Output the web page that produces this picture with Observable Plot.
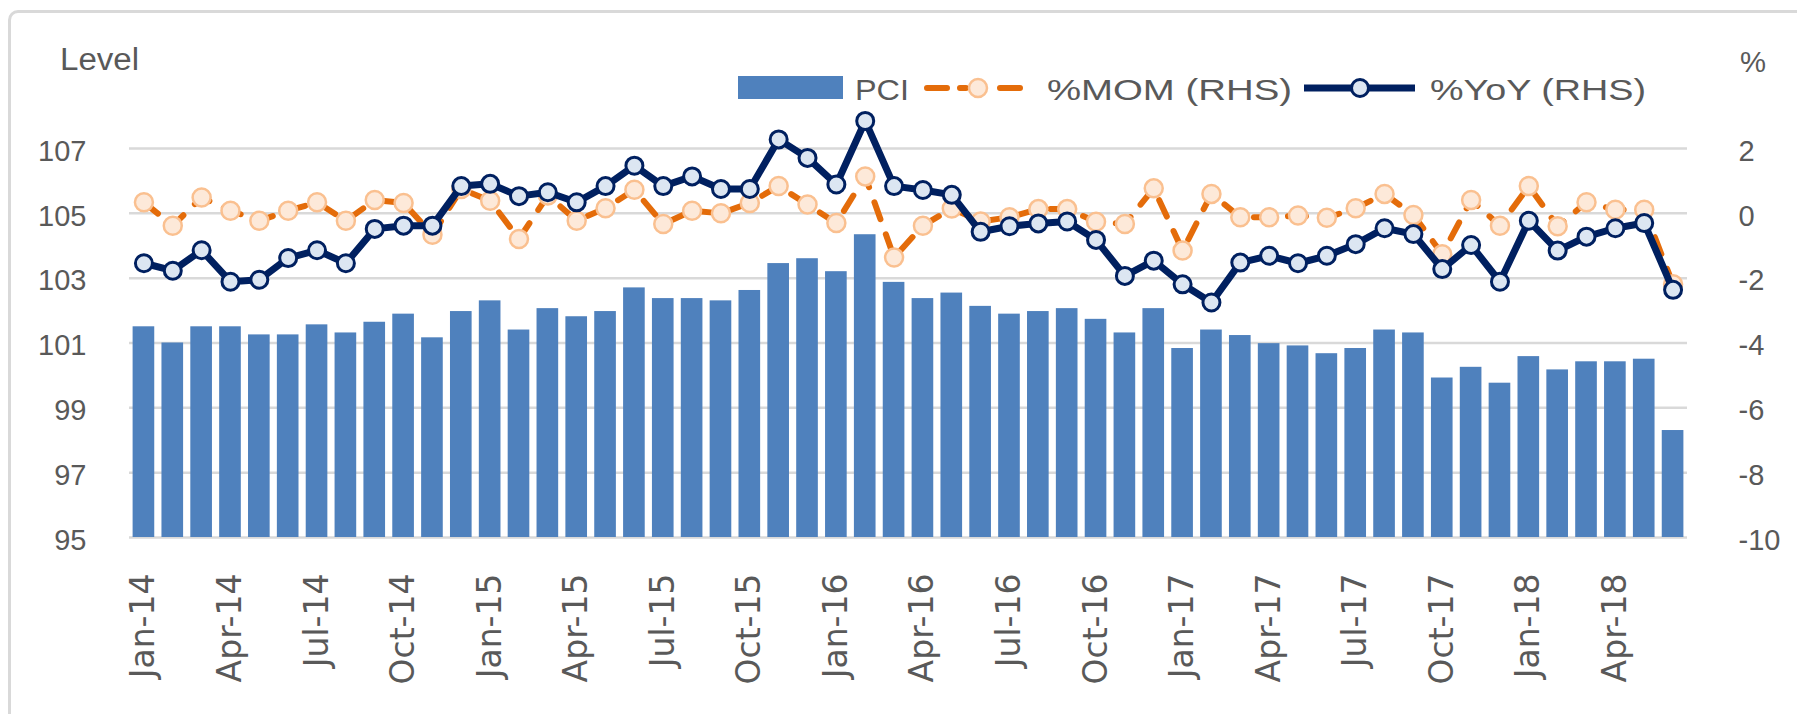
<!DOCTYPE html>
<html>
<head>
<meta charset="utf-8">
<script src="https://cdn.jsdelivr.net/npm/d3@7"></script>
<script src="https://cdn.jsdelivr.net/npm/@observablehq/plot@0.6"></script>
<style>
  html, body { margin: 0; padding: 0; background: #fff; overflow: hidden; }
  #wrap { position: relative; width: 1797px; height: 714px; overflow: hidden; background: #fff; }
  #frame { position: absolute; left: 8px; top: 10px; width: 1900px; height: 900px; border: 3px solid #d9d9d9; border-radius: 10px; box-sizing: border-box; }
  #chart { position: absolute; left: 0; top: 0; }
  #overlay { position: absolute; left: 0; top: 0; pointer-events: none; }
</style>
</head>
<body>
<div id="wrap">
  <div id="frame"></div>
  <div id="chart"></div>
  <svg id="overlay" width="1797" height="714"></svg>
</div>
<script>
// ---- data ----
const monthNames = ["Jan","Feb","Mar","Apr","May","Jun","Jul","Aug","Sep","Oct","Nov","Dec"];
const years = ["14","15","16","17","18"];
const months = [];
for (const y of years) for (const m of monthNames) months.push(m + "-" + y);
months.length = 54; // Jan-14 .. Jun-18

const pci = [
  101.5, 101.0, 101.5, 101.5, 101.25, 101.25, 101.56, 101.31, 101.64, 101.89, 101.16, 101.97,
  102.30, 101.40, 102.06, 101.81, 101.97, 102.70, 102.37, 102.37, 102.30, 102.62, 103.45, 103.60,
  103.20, 104.34, 102.87, 102.37, 102.54, 102.13, 101.89, 101.97, 102.06, 101.73, 101.31, 102.06,
  100.83, 101.40, 101.23, 100.98, 100.91, 100.67, 100.83, 101.40, 101.31, 99.92, 100.25, 99.76,
  100.58, 100.17, 100.42, 100.42, 100.50, 98.30
];
const mom = [
  0.34, -0.38, 0.49, 0.08, -0.23, 0.08, 0.34, -0.23, 0.41, 0.32, -0.66, 0.75,
  0.39, -0.79, 0.55, -0.23, 0.16, 0.73, -0.33, 0.08, 0.00, 0.32, 0.84, 0.27,
  -0.30, 1.14, -1.36, -0.38, 0.15, -0.25, -0.12, 0.13, 0.13, -0.26, -0.33, 0.77,
  -1.15, 0.60, -0.12, -0.12, -0.07, -0.14, 0.16, 0.60, -0.05, -1.26, 0.41, -0.38,
  0.84, -0.40, 0.34, 0.11, 0.11, -2.19
];
const yoy = [
  -1.54, -1.77, -1.14, -2.11, -2.05, -1.38, -1.14, -1.54, -0.48, -0.38, -0.38, 0.84,
  0.91, 0.53, 0.65, 0.34, 0.84, 1.47, 0.84, 1.14, 0.75, 0.75, 2.28, 1.71,
  0.89, 2.85, 0.84, 0.72, 0.57, -0.57, -0.40, -0.31, -0.25, -0.82, -1.93, -1.46,
  -2.19, -2.75, -1.52, -1.31, -1.54, -1.31, -0.95, -0.46, -0.64, -1.72, -0.98, -2.11,
  -0.23, -1.15, -0.72, -0.46, -0.30, -2.36
];
const leftTicks = [95, 97, 99, 101, 103, 105, 107];
const rightTicks = [-10, -8, -6, -4, -2, 0, 2];
const xTickLabels = months.filter((d, i) => i % 3 === 0);
const seriesNames = ["PCI", "%MOM (RHS)", "%YoY (RHS)"];
const leftTitle = "Level";
const rightTitle = "%";

// right axis aligned with left: -10 <-> 95, 2 <-> 107
const OFFSET = leftTicks[0] - rightTicks[0];

const C = {
  bar: "#4f81bd", mom: "#e46c0a", momFill: "#fde9d9", momStroke: "#fac090",
  yoy: "#002060", yoyFill: "#dce6f2", grid: "#d9d9d9", text: "#595959"
};
const numFont = "Liberation Sans, Arial, sans-serif";
const xFont = "'DejaVu Sans', Verdana, sans-serif";

const data = months.map((m, i) => ({m, pci: pci[i], mom: mom[i] + OFFSET, yoy: yoy[i] + OFFSET}));

const chart = Plot.plot({
  width: 1797,
  height: 714,
  marginTop: 148,
  marginBottom: 177,
  marginLeft: 129,
  marginRight: 110,
  style: {background: "transparent", overflow: "visible", fontFamily: numFont, color: C.text},
  x: {type: "band", domain: months, paddingInner: 0.25, paddingOuter: 0.125, axis: null},
  y: {domain: [leftTicks[0], leftTicks[leftTicks.length - 1]], axis: null},
  marks: [
    Plot.ruleY(leftTicks, {stroke: C.grid, strokeWidth: 2.5}),
    Plot.barY(data, {x: "m", y1: leftTicks[0], y2: "pci", fill: C.bar}),
    Plot.line(data, {x: "m", y: "mom", stroke: C.mom, strokeWidth: 6, strokeDasharray: "18,16", strokeLinecap: "round"}),
    Plot.dot(data, {x: "m", y: "mom", r: 9, fill: C.momFill, stroke: C.momStroke, strokeWidth: 2.5}),
    Plot.line(data, {x: "m", y: "yoy", stroke: C.yoy, strokeWidth: 7, strokeLinejoin: "round"}),
    Plot.dot(data, {x: "m", y: "yoy", r: 8.5, fill: C.yoyFill, stroke: C.yoy, strokeWidth: 3}),
    Plot.axisX({ticks: xTickLabels, tickRotate: -90, tickSize: 0, tickPadding: 36, label: null,
      fontSize: 33, fill: C.text}),
    Plot.axisY({anchor: "left", ticks: leftTicks, tickSize: 0, tickPadding: 43, label: null,
      fontSize: 29, fill: C.text, dy: 3}),
    Plot.axisY({anchor: "right", ticks: rightTicks.map(t => t + OFFSET), tickFormat: d => String(d - OFFSET),
      label: null, tickSize: 0, tickPadding: 51, fontSize: 29, fill: C.text, dy: 3})
  ]
});
document.getElementById("chart").appendChild(chart);
// x tick labels use a Verdana-like face, as in the reference
const monthSet = new Set(xTickLabels);
d3.select(chart).selectAll("text")
  .filter(function() { return monthSet.has(this.textContent.trim()); })
  .style("font-family", xFont);

// ---- legend and axis titles (overlay) ----
const ov = d3.select("#overlay");
const txt = (x, y, s, size, len) => {
  const t = ov.append("text").attr("x", x).attr("y", y).attr("fill", C.text)
    .attr("font-family", numFont).attr("font-size", size).text(s);
  if (len) t.attr("textLength", len).attr("lengthAdjust", "spacingAndGlyphs");
  return t;
};
txt(60, 70, leftTitle, 31, 79);
txt(1740, 72, rightTitle, 30, 26);

// PCI
ov.append("rect").attr("x", 738).attr("y", 76).attr("width", 105).attr("height", 23).attr("fill", C.bar);
txt(855, 100, seriesNames[0], 30, 54);
// MOM
ov.append("path").attr("d", "M927,88H947M960,88H966M1000,88H1020")
  .attr("stroke", C.mom).attr("stroke-width", 6).attr("stroke-linecap", "round").attr("fill", "none");
ov.append("circle").attr("cx", 978).attr("cy", 88).attr("r", 9)
  .attr("fill", C.momFill).attr("stroke", C.momStroke).attr("stroke-width", 2.5);
txt(1047, 100, seriesNames[1], 30, 245);
// YoY
ov.append("path").attr("d", "M1304,88H1415")
  .attr("stroke", C.yoy).attr("stroke-width", 7).attr("fill", "none");
ov.append("circle").attr("cx", 1360).attr("cy", 88).attr("r", 8.5)
  .attr("fill", C.yoyFill).attr("stroke", C.yoy).attr("stroke-width", 3);
txt(1430, 100, seriesNames[2], 30, 216);
</script>
</body>
</html>
